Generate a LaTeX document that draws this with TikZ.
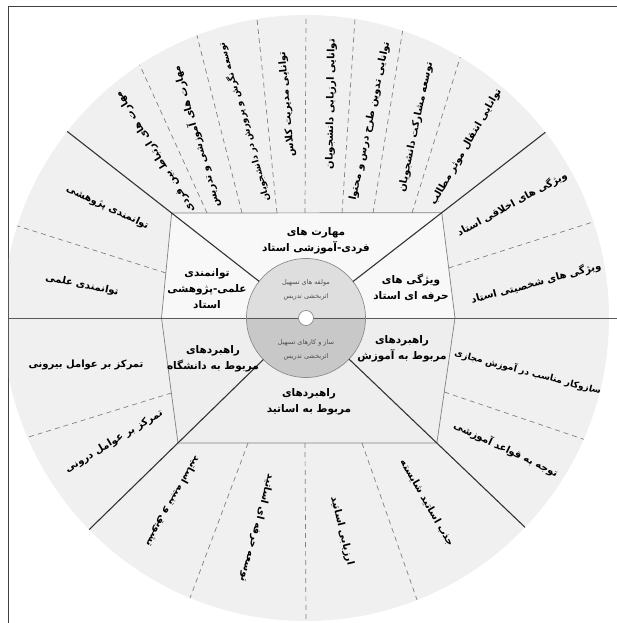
\documentclass[tikz,border=0pt]{standalone}
\usepackage{fontspec}
\newfontfamily\arabicfont[Script=Arabic]{DejaVu Sans}
\TeXXeTstate=1
\newcommand\fa[1]{\beginR #1\endR}
\newcommand\myitemfont{\arabicfont\bfseries\fontsize{10}{12}\selectfont}
\newcommand\mysmallitemfont{\arabicfont\bfseries\fontsize{9}{11}\selectfont}
\newcommand\mylblfont{\arabicfont\bfseries\fontsize{10.5}{16}\selectfont}
\newcommand\mycorefont{\arabicfont\fontsize{6.5}{14}\selectfont}
\definecolor{ringgray}{HTML}{F0F0F0}
\definecolor{boxup}{HTML}{F8F8F8}
\definecolor{boxlow}{HTML}{EEEEEE}
\definecolor{coreup}{HTML}{DEDEDE}
\definecolor{corelow}{HTML}{C8C8C8}
\begin{document}
\begin{tikzpicture}[x=1pt,y=1pt,
  sepline/.style={draw=black!80, line width=1.1pt},
  hline/.style={draw=black!65, line width=0.8pt},
  boxline/.style={draw=black!50, line width=0.7pt},
  dline/.style={draw=black!50, line width=0.7pt, dash pattern=on 5pt off 4pt},
  item/.style={font=\myitemfont, inner sep=0pt},
  smallitem/.style={font=\mysmallitemfont, inner sep=0pt},
  lbl/.style={font=\mylblfont, align=center, inner sep=0pt},
  core/.style={font=\mycorefont, text=black!70, align=center, inner sep=0pt}]
\useasboundingbox (-306,-305) rectangle (311,318);
% frame
\draw[line width=1pt, black!75] (-297,-310) -- (-297,311) -- (320,311);
% outer disc
\begin{scope}
  \clip (-297,-320) rectangle (320,311);
  \fill[ringgray] (0,0) circle (303);
\end{scope}
% box corners
\coordinate (TL) at (142:170.5);
\coordinate (TR) at (37.8:171.8);
\coordinate (RM) at (149,0);
\coordinate (BR) at (-43.7:181);
\coordinate (BL) at (224.3:178.9);
\coordinate (LM) at (-144.5,0);
\fill[boxup] (LM) -- (TL) -- (TR) -- (RM) -- cycle;
\fill[boxlow] (LM) -- (BL) -- (BR) -- (RM) -- cycle;
\draw[boxline] (TL) -- (TR);
\draw[boxline] (TR) -- (RM) -- (BR);
\draw[boxline] (BL) -- (BR);
\draw[boxline] (TL) -- (LM) -- (BL);
% dashed separators, top sector
\foreach \bx/\ang [count=\i] in {-99/123.3,-64/111.1,-29/99.3,-1/90,36/80.7,67/71.4,106/59.4}{
  \coordinate (ta\i) at (\bx,105);
  \coordinate (tb\i) at (\ang:303);
  \draw[dline] (ta\i) -- (tb\i);
}
% bottom sector
\foreach \bx/\ang [count=\i] in {-58/247.5,-1/270,56/291.5}{
  \coordinate (ba\i) at (\bx,-125);
  \coordinate (bb\i) at (\ang:303);
  \draw[dline] (ba\i) -- (bb\i);
}
% side sectors
\coordinate (ra) at (142.7,50);   \coordinate (rb) at (18.5:303);
\coordinate (rc) at (138.3,-74);  \coordinate (rd) at (-23.6:303);
\coordinate (la) at (-140.1,45);  \coordinate (lb) at (162.3:303);
\coordinate (lc) at (-134.6,-75); \coordinate (ld) at (203.2:303);
\draw[dline] (ra) -- (rb);
\draw[dline] (rc) -- (rd);
\draw[dline] (la) -- (lb);
\draw[dline] (lc) -- (ld);
% core circle
\fill[coreup] (59.5,0) arc (0:180:59.5) -- cycle;
\fill[corelow] (-59.5,0) arc (180:360:59.5) -- cycle;
% horizontal line
\draw[hline] (-297,0) -- (311,0);
\draw[black!45, line width=0.7pt] (0,0) circle (59.5);
% diagonal separators
\foreach \a/\n in {142/ul,37.8/ur,-43.7/lr,224.3/ll}{
  \coordinate (\n0) at (\a:59.5);
  \coordinate (\n1) at (\a:303);
  \draw[sepline] (\n0) -- (\n1);
}
\node[circle, fill=white, draw=black!45, line width=0.7pt, minimum size=15pt, inner sep=0pt] (hub) at (0,0) {};
% core texts
\node[core] (c1) at (0,28) {\fa{مولفه های تسهیل}\\\fa{اثربخشی تدریس}};
\node[core] (c2) at (0,-32) {\fa{ساز و کارهای تسهیل}\\\fa{اثربخشی تدریس}};
% box labels
\node[lbl] (l1) at (10,77) {\fa{مهارت های}\\\fa{فردی-آموزشی استاد}};
\node[lbl] (l2) at (105,30) {\fa{ویژگی های}\\\fa{حرفه ای استاد}};
\node[lbl] (l3) at (-99,29) {\fa{توانمندی}\\\fa{علمی-پژوهشی}\\\fa{استاد}};
\node[lbl] (l4) at (96,-31) {\fa{راهبردهای}\\\fa{مربوط به آموزش}};
\node[lbl] (l5) at (-93,-41) {\fa{راهبردهای}\\\fa{مربوط به دانشگاه}};
\node[lbl] (l6) at (3,-84) {\fa{راهبردهای}\\\fa{مربوط به اساتید}};
% top sector items
\node[item, rotate=122] (t1) at (-151,166) {\fa{مهارت های ارتباط بین فردی}};
\node[item, rotate=106] (t2) at (-110,181) {\fa{مهارت های آموزشی و تدریس}};
\node[smallitem, rotate=106] (t3) at (-62,196) {\fa{توسعه نگرش و پرورش در دانشجویان}};
\node[item, rotate=95] (t4) at (-19,214) {\fa{توانایی مدیریت کلاس}};
\node[item, rotate=89] (t5) at (25,214) {\fa{توانایی ارزیابی دانشجویان}};
\node[item, rotate=78] (t6) at (64,197) {\fa{توانایی تدوین طرح درس و محتوا}};
\node[item, rotate=78] (t7) at (110,191) {\fa{توسعه مشارکت دانشجویان}};
\node[item, rotate=60] (t8) at (160,171) {\fa{توانایی انتقال موثر مطالب}};
% right items
\node[item, rotate=28.4] (r1) at (206,114) {\fa{ویژگی های اخلاقی استاد}};
\node[item, rotate=14.8] (r2) at (230,35) {\fa{ویژگی های شخصیتی استاد}};
\node[smallitem, rotate=-14.7] (r3) at (222,-54) {\fa{سازوکار مناسب در آموزش مجازی}};
\node[item, rotate=-25.5] (r4) at (200,-131) {\fa{توجه به قواعد آموزشی}};
% left items
\node[item, rotate=-25.2] (s1) at (-198.5,110.5) {\fa{توانمندی پژوهشی}};
\node[item, rotate=-11.3] (s2) at (-224,33) {\fa{توانمندی علمی}};
\node[item] (s3) at (-220,-47) {\fa{تمرکز بر عوامل بیرونی}};
\node[item, rotate=30.9] (s4) at (-192,-123.5) {\fa{تمرکز بر عوامل درونی}};
% bottom items
\node[item, rotate=-119] (b1) at (-133,-183) {\fa{تشویق و تنبیه اساتید}};
\node[item, rotate=-104.4] (b2) at (-49,-210) {\fa{توسعه حرفه ای اساتید}};
\node[item, rotate=-76.3] (b3) at (36,-213) {\fa{ارزیابی اساتید}};
\node[item, rotate=-60.3] (b4) at (121,-185) {\fa{جذب اساتید شایسته}};
\end{tikzpicture}
\end{document}
